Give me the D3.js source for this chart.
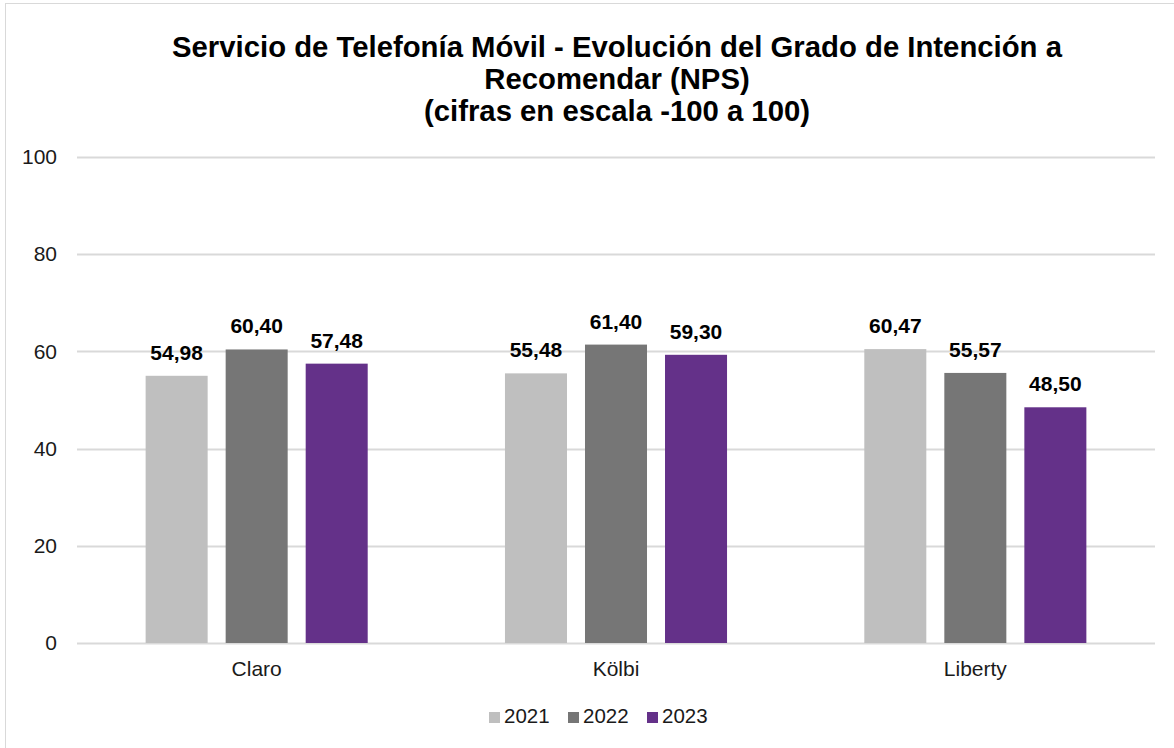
<!DOCTYPE html>
<html>
<head>
<meta charset="utf-8">
<script src="https://cdn.jsdelivr.net/npm/d3@7"></script>
<style>
  body { margin: 0; background: #fff; }
  svg { display: block; font-family: "Liberation Sans", Arial, sans-serif; }
</style>
</head>
<body>
<div id="chart"></div>
<script>
const categories = ['Claro', 'Kölbi', 'Liberty'];
const years = ['2021', '2022', '2023'];
const values2021 = [54.98, 55.48, 60.47];
const values2022 = [60.40, 61.40, 55.57];
const values2023 = [57.48, 59.30, 48.50];
const yTicks = [0, 20, 40, 60, 80, 100];
const titleLines = [
  'Servicio de Telefonía Móvil - Evolución del Grado de Intención a',
  'Recomendar (NPS)',
  '(cifras en escala -100 a 100)'
];
const colors = { '2021': '#bfbfbf', '2022': '#767676', '2023': '#643189' };

(function () {
  const w = 1174, h = 748;
  const series = { '2021': values2021, '2022': values2022, '2023': values2023 };
  const rows = categories.map((c, i) => ({ cat: c, vals: years.map((y) => ({ year: y, v: series[y][i] })) }));

  const svg = d3.select('#chart').append('svg').attr('width', w).attr('height', h);
  svg.append('rect').attr('x', 5.5).attr('y', 3.5).attr('width', w + 20).attr('height', h + 20)
    .attr('fill', '#fff').attr('stroke', '#d9d9d9').attr('stroke-width', 1);

  const x0 = d3.scaleBand().domain(categories).range([77, 1155]).paddingInner(0.382).paddingOuter(0.191);
  const x1 = d3.scaleBand().domain(years).range([0, x0.bandwidth()]).paddingInner(0.225).paddingOuter(0);
  const y = d3.scaleLinear().domain([0, 100]).range([643, 157]);

  // gridlines
  svg.append('g').selectAll('line').data(yTicks).join('line')
    .attr('x1', 77).attr('x2', 1155)
    .attr('y1', (d) => Math.round(y(d)) + 0.5).attr('y2', (d) => Math.round(y(d)) + 0.5)
    .attr('stroke', '#d9d9d9').attr('stroke-width', 2);

  // y axis labels
  const yAxis = svg.append('g').attr('transform', 'translate(57,0)')
    .call(d3.axisLeft(y).tickValues(yTicks).tickSize(0).tickPadding(0));
  yAxis.select('.domain').remove();
  yAxis.selectAll('text').attr('font-size', 21).attr('fill', '#1a1a1a').attr('font-family', 'Liberation Sans, Arial, sans-serif');

  // bars
  const grp = svg.append('g').selectAll('g').data(rows).join('g')
    .attr('transform', (d) => `translate(${x0(d.cat)},0)`);
  grp.selectAll('rect').data((d) => d.vals).join('rect')
    .attr('x', (d) => x1(d.year)).attr('width', x1.bandwidth())
    .attr('y', (d) => y(d.v)).attr('height', (d) => y(0) - y(d.v))
    .attr('fill', (d) => colors[d.year]);
  grp.selectAll('text').data((d) => d.vals).join('text')
    .attr('x', (d) => x1(d.year) + x1.bandwidth() / 2)
    .attr('y', (d) => y(d.v) - 16)
    .attr('text-anchor', 'middle').attr('font-size', 21).attr('font-weight', 'bold').attr('fill', '#000')
    .text((d) => d.v.toFixed(2).replace('.', ','));

  // x axis labels
  const xAxis = svg.append('g').attr('transform', 'translate(0,661)')
    .call(d3.axisBottom(x0).tickSize(0).tickPadding(0));
  xAxis.select('.domain').remove();
  xAxis.selectAll('text').attr('font-size', 21).attr('fill', '#1a1a1a').attr('font-family', 'Liberation Sans, Arial, sans-serif');

  // title
  svg.append('text').attr('x', 617).attr('text-anchor', 'middle')
    .attr('font-size', 29.3).attr('font-weight', 'bold').attr('fill', '#000')
    .selectAll('tspan').data(titleLines).join('tspan')
    .attr('x', 617).attr('y', (d, i) => 57 + i * 32).text((d) => d);

  // legend
  const leg = svg.append('g').selectAll('g').data(years).join('g')
    .attr('transform', (d, i) => `translate(${489 + i * 79},712)`);
  leg.append('rect').attr('width', 11).attr('height', 11).attr('fill', (d) => colors[d]);
  leg.append('text').attr('x', 15).attr('y', 11).attr('font-size', 20.5).attr('fill', '#1a1a1a').text((d) => d);
})();
</script>
</body>
</html>
